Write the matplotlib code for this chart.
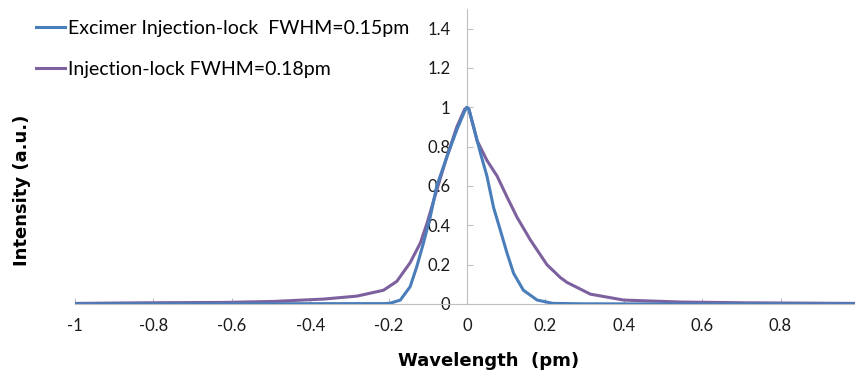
import numpy as np
import matplotlib
matplotlib.use("Agg")
import matplotlib.pyplot as plt

plt.rcParams["font.family"] = ["Lato", "DejaVu Sans"]

# Excimer injection-lock spectrum (blue)
excimer_x = [-1.0, -0.6, -0.3, -0.21, -0.196, -0.17, -0.145, -0.128, -0.111, -0.094,
             -0.077, -0.051, -0.026, -0.006, 0.0, 0.005, 0.017, 0.034, 0.051, 0.068,
             0.085, 0.102, 0.119, 0.144, 0.179, 0.22, 0.3, 0.6, 0.99]
excimer_y = [0.0, 0.001, 0.002, 0.002, 0.004, 0.02, 0.088, 0.19, 0.31, 0.44,
             0.60, 0.75, 0.885, 0.98, 1.0, 0.99, 0.90, 0.77, 0.65, 0.49,
             0.376, 0.26, 0.156, 0.07, 0.02, 0.003, 0.001, 0.0, 0.0]

# Injection-lock spectrum (purple)
inj_x = [-1.0, -0.834, -0.621, -0.494, -0.366, -0.281, -0.213, -0.179, -0.145, -0.119,
         -0.102, -0.077, -0.051, -0.026, -0.006, 0.0, 0.005, 0.026, 0.051, 0.077,
         0.102, 0.128, 0.162, 0.204, 0.238, 0.255, 0.315, 0.40, 0.545, 0.715, 0.99]
inj_y = [0.003, 0.006, 0.008, 0.013, 0.025, 0.04, 0.07, 0.115, 0.21, 0.31,
         0.41, 0.58, 0.75, 0.90, 0.99, 1.0, 0.99, 0.83, 0.73, 0.65,
         0.545, 0.44, 0.325, 0.20, 0.135, 0.11, 0.05, 0.02, 0.01, 0.006, 0.003]

x_ticks = [-1, -0.8, -0.6, -0.4, -0.2, 0, 0.2, 0.4, 0.6, 0.8]
x_labels = ["-1", "-0.8", "-0.6", "-0.4", "-0.2", "0", "0.2", "0.4", "0.6", "0.8"]
y_ticks = [0, 0.2, 0.4, 0.6, 0.8, 1.0, 1.2, 1.4]
y_labels = ["0", "0.2", "0.4", "0.6", "0.8", "1", "1.2", "1.4"]

blue = "#4a7ebb"
purple = "#7d619f"
axis_grey = "#c0c0c0"

fig = plt.figure(figsize=(8.55, 3.78), dpi=100)
ax = fig.add_axes([75 / 855, 74 / 378, 780 / 855, 295 / 378])

ax.plot(excimer_x, excimer_y, color=blue, lw=2.2,
        label="Excimer Injection-lock  FWHM=0.15pm", zorder=3)
ax.plot(inj_x, inj_y, color=purple, lw=2.2,
        label="Injection-lock FWHM=0.18pm", zorder=2)

ax.set_xlim(-1, 0.99)
ax.set_ylim(0, 1.5)

for s in ["top", "right"]:
    ax.spines[s].set_visible(False)
ax.spines["left"].set_position(("data", 0))
ax.spines["left"].set_color(axis_grey)
ax.spines["bottom"].set_color(axis_grey)

ax.set_xticks(x_ticks)
ax.set_xticklabels(x_labels)
ax.set_yticks(y_ticks)
ax.set_yticklabels(y_labels)
ax.tick_params(axis="both", direction="in", length=4, color=axis_grey,
               labelsize=12, labelcolor="#1a1a1a")
ax.tick_params(axis="x", pad=10)
ax.tick_params(axis="y", pad=12)

fig.text(489 / 855, 1 - 361 / 378, "Wavelength  (pm)", ha="center", va="center",
         fontsize=13, fontweight="bold", family="DejaVu Sans")
fig.text(22 / 855, 1 - 190 / 378, "Intensity (a.u.)", ha="center", va="center",
         rotation=90, fontsize=13, fontweight="bold", family="DejaVu Sans")

ax.legend(loc="upper left", bbox_to_anchor=(36 / 855, 1 - 20 / 378),
          bbox_transform=fig.transFigure, frameon=False, fontsize=14,
          handlelength=1.5, handletextpad=0.15, labelspacing=1.25,
          borderaxespad=0, borderpad=0)

fig.savefig("out.png", dpi=100)
